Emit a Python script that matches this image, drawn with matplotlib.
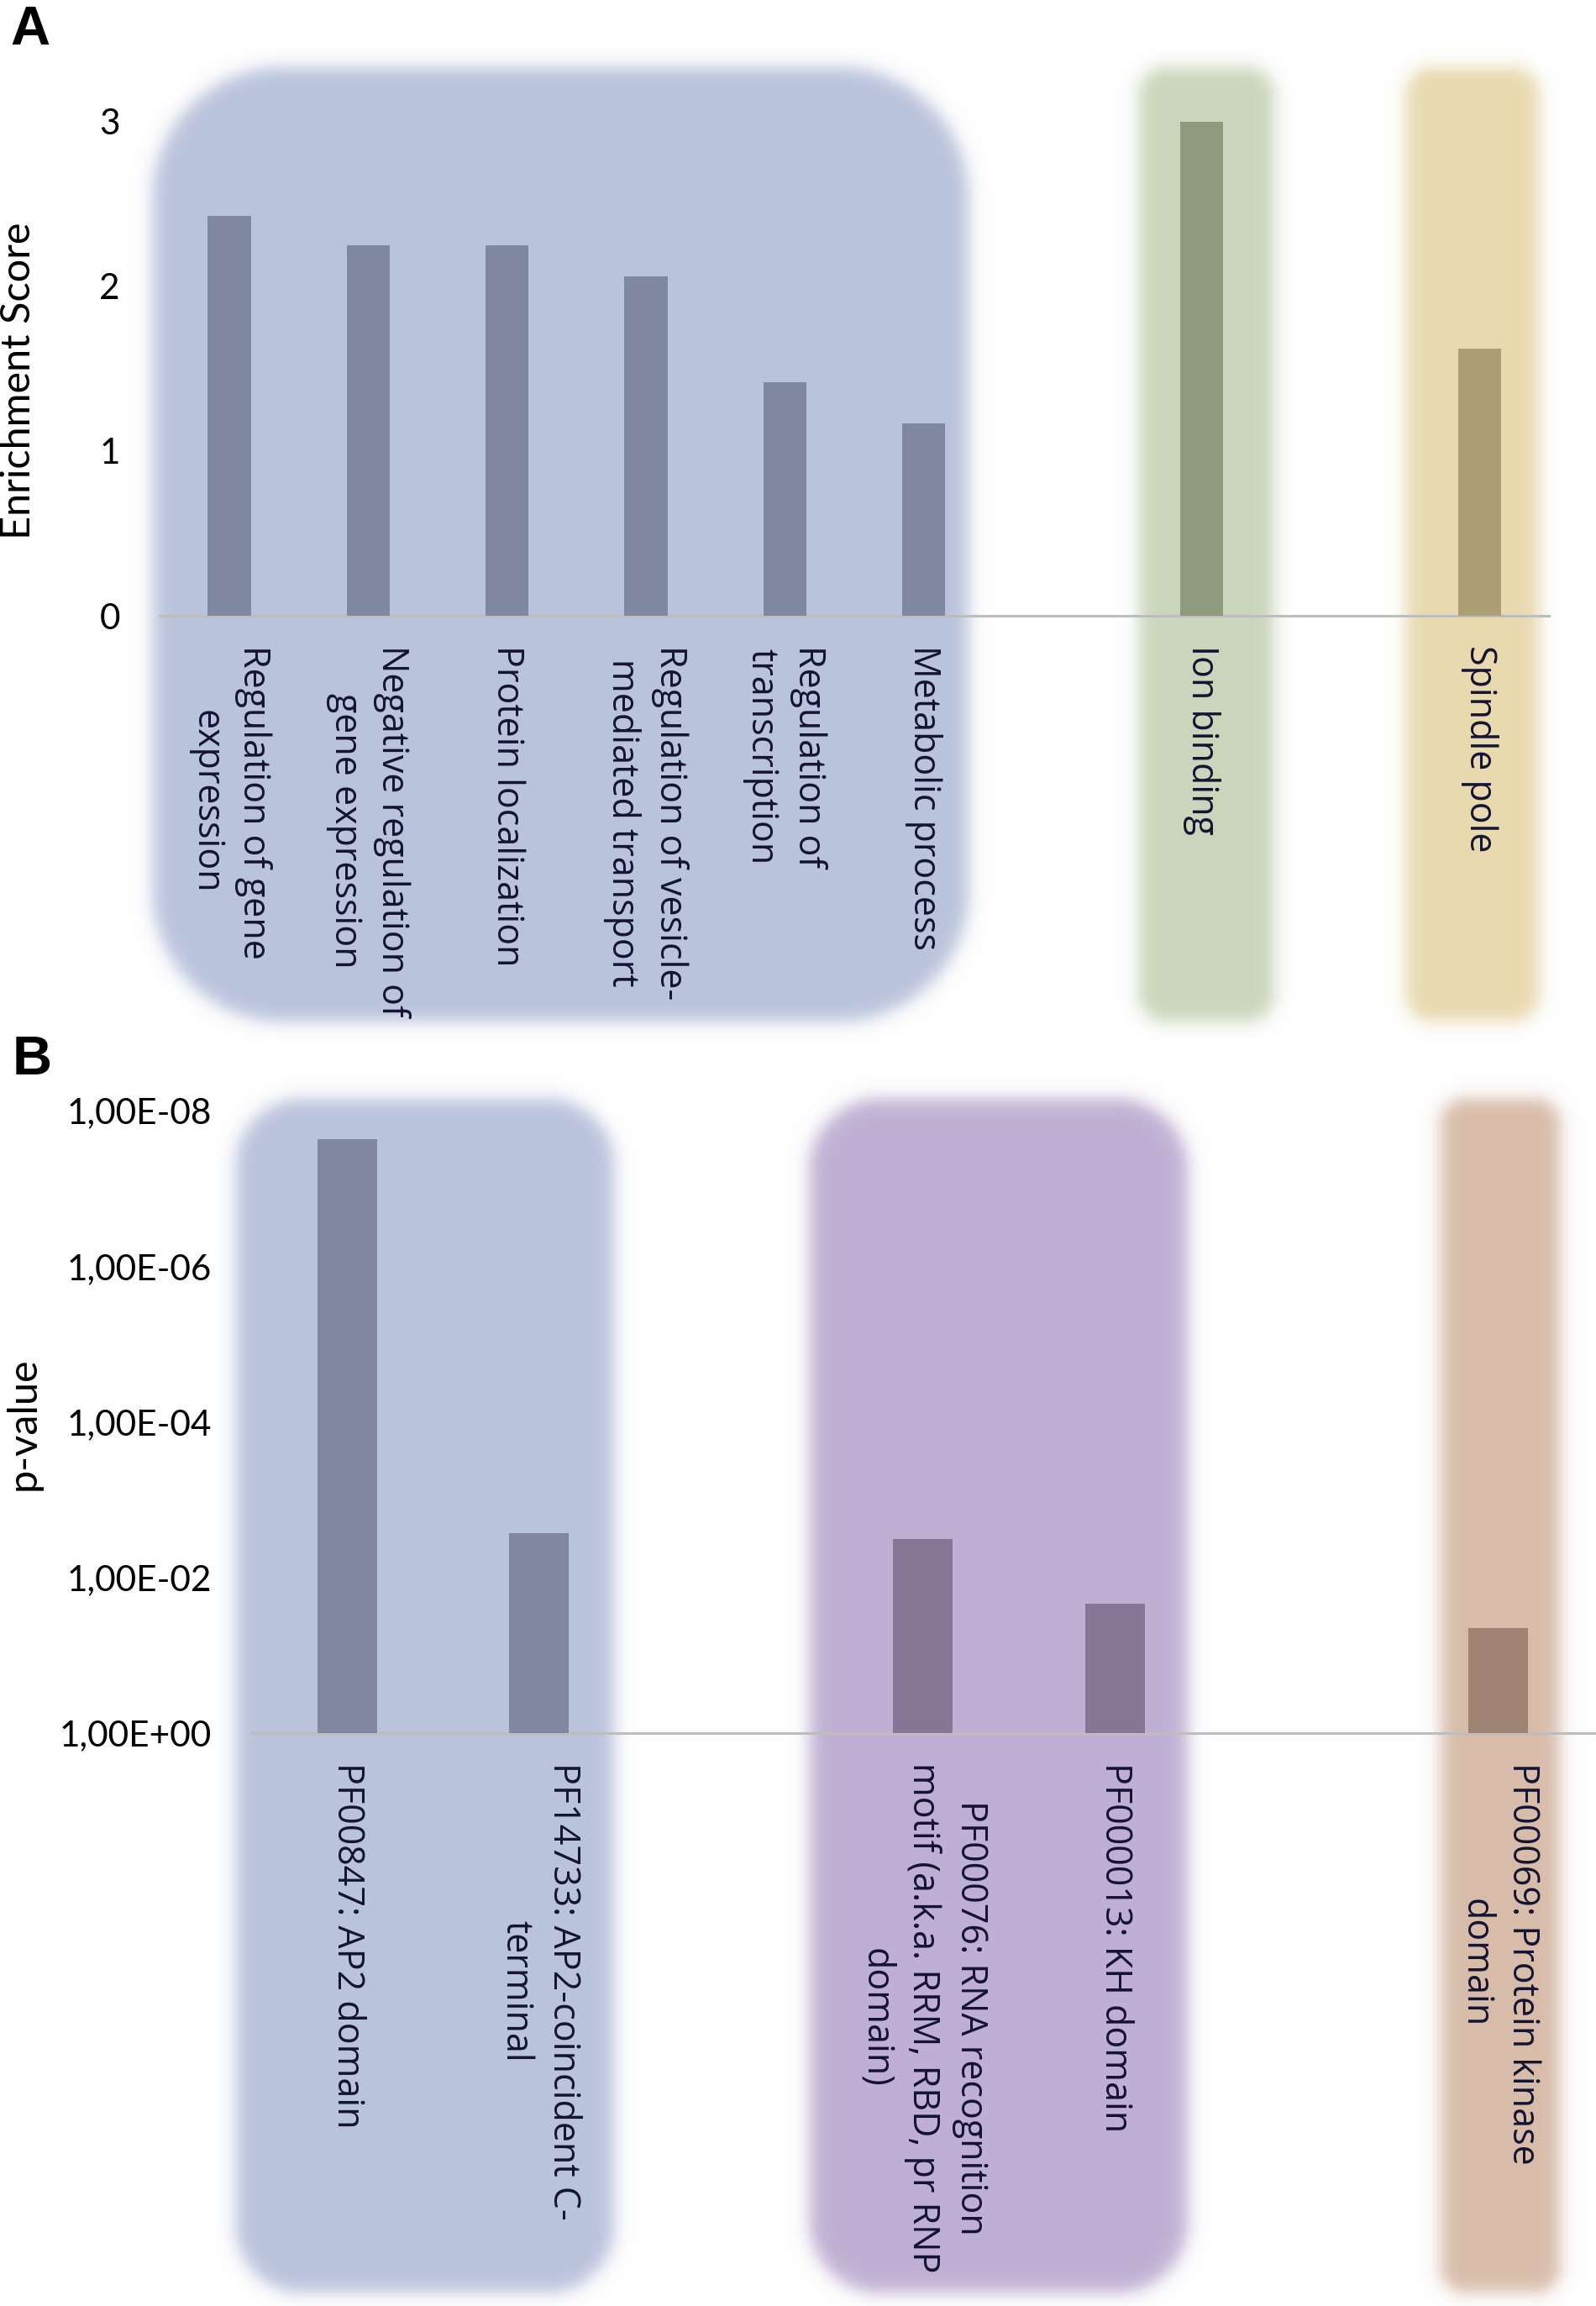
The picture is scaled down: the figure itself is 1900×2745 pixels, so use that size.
import numpy as np
import matplotlib
matplotlib.use('Agg')
import matplotlib.pyplot as plt
from matplotlib.ticker import FuncFormatter, NullLocator

# ---- data: panel A (enrichment scores) ----
a_terms = ['Regulation of gene\nexpression',
           'Negative regulation of\ngene expression',
           'Protein localization',
           'Regulation of vesicle-\nmediated transport',
           'Regulation of\ntranscription',
           'Metabolic process',
           'Ion binding',
           'Spindle pole']
a_scores = [2.43, 2.25, 2.25, 2.06, 1.42, 1.17, 3.00, 1.62]
a_group = [0, 0, 0, 0, 0, 0, 1, 2]
a_yticks = [0, 1, 2, 3]

# ---- data: panel B (Pfam domain p-values) ----
b_domains = ['PF00847: AP2 domain',
             'PF14733: AP2-coincident C-\nterminal',
             'PF00076: RNA recognition\nmotif (a.k.a. RRM, RBD, pr RNP\ndomain)',
             'PF000013: KH domain',
             'PF00069: Protein kinase\ndomain']
b_pvalues = [2.3e-8, 2.7e-3, 3.2e-3, 2.2e-2, 4.5e-2]
b_group = [0, 0, 1, 1, 2]
b_yticks = [1, 1e-2, 1e-4, 1e-6, 1e-8]

# colours per group
a_box_colors = ['#bac3dc', '#cad6bb', '#e8d9af']
a_bar_colors = ['#7f87a1', '#8d9a7d', '#ad9f75']
b_box_colors = ['#bac3dc', '#bfb0d3', '#d8bcaa']
b_bar_colors = ['#7f87a1', '#857696', '#9e8373']

# background boxes: x span in category units, corner radius in px
a_spans = [(-0.55, 5.32, 155), (6.55, 7.52, 35), (8.47, 9.43, 35)]
b_spans = [(-0.58, 1.39, 80), (2.41, 4.38, 85), (5.70, 6.32, 32)]
a_box_y = (80, 1216)     # top / bottom, px from top
b_box_y = (1308, 2729)

W, H = 1900, 2745
label_color = '#141432'
axis_color = '#bdbdbd'

plt.rcParams['font.family'] = ['Lato', 'DejaVu Sans']

fig = plt.figure(figsize=(W / 100, H / 100), dpi=100)
bg = fig.add_axes([0, 0, 1, 1], zorder=-1)
bg.axis('off')

axA = fig.add_axes([190.3 / W, 1 - 733 / H, (1844 - 190.3) / W, 3.2 * 196 / H])
axB = fig.add_axes([299.3 / W, 1 - 2063 / H, 7 * 228.4 / W, (2063 - 1322) / H])


def style_axes(ax):
    ax.set_facecolor('none')
    for s in ['top', 'right', 'left']:
        ax.spines[s].set_visible(False)
    ax.spines['bottom'].set_color(axis_color)
    ax.spines['bottom'].set_linewidth(2.2)
    ax.tick_params(axis='y', length=0, pad=34, labelsize=30.5)
    ax.tick_params(axis='x', length=0, pad=25)


def set_cat_labels(ax, pos, labels):
    ax.set_xticks(pos)
    ax.set_xticklabels(labels, rotation=-90, fontsize=31, color=label_color,
                       family=['Open Sans', 'DejaVu Sans'], linespacing=1.35,
                       multialignment='center')


# panel A
posA = [i + g for i, g in enumerate(a_group)]
axA.bar(posA, a_scores, width=0.31, color=[a_bar_colors[g] for g in a_group], zorder=3)
axA.set_xlim(-0.5, max(posA) + 0.5)
axA.set_ylim(0, 3.2)
axA.set_yticks(a_yticks)
style_axes(axA)
set_cat_labels(axA, posA, a_terms)

# panel B (inverted log axis, bars grow from 1 towards small p)
posB = [i + g for i, g in enumerate(b_group)]
axB.set_yscale('log')
axB.bar(posB, [1 - p for p in b_pvalues], bottom=b_pvalues, width=0.31,
        color=[b_bar_colors[g] for g in b_group], zorder=3)
axB.set_xlim(-0.5, max(posB) + 0.5)
axB.set_ylim(1, 1e-8)
axB.set_yticks(b_yticks)
axB.yaxis.set_major_formatter(FuncFormatter(lambda v, _: f'{v:.2E}'.replace('.', ',')))
axB.yaxis.set_minor_locator(NullLocator())
style_axes(axB)
set_cat_labels(axB, posB, b_domains)

# soft-edged rounded background boxes
xs = np.arange(W, dtype=np.float32) + 0.5
ys = H - (np.arange(H, dtype=np.float32) + 0.5)
X, Y = np.meshgrid(xs, ys)
img = np.ones((H, W, 3), dtype=np.float32)


def add_box(ax, x0, x1, r, ytop, ybot, color):
    global img
    tr = ax.get_xaxis_transform()
    px0 = tr.transform((x0, 0))[0]
    px1 = tr.transform((x1, 0))[0]
    y0, y1 = H - ybot, H - ytop
    cx, cy = (px0 + px1) / 2, (y0 + y1) / 2
    hx, hy = (px1 - px0) / 2, (y1 - y0) / 2
    qx = np.abs(X - cx) - hx + r
    qy = np.abs(Y - cy) - hy + r
    d = np.sqrt(np.maximum(qx, 0) ** 2 + np.maximum(qy, 0) ** 2) + np.minimum(np.maximum(qx, qy), 0) - r
    a = 1 / (1 + np.exp(np.clip(d / 6.0, -50, 50)))
    c = np.array(matplotlib.colors.to_rgb(color), dtype=np.float32)
    img = img * (1 - a[..., None]) + c * a[..., None]


for (x0, x1, r), col in zip(a_spans, a_box_colors):
    add_box(axA, x0, x1, r, a_box_y[0], a_box_y[1], col)
for (x0, x1, r), col in zip(b_spans, b_box_colors):
    add_box(axB, x0, x1, r, b_box_y[0], b_box_y[1], col)

bg.imshow(np.clip(img, 0, 1), extent=[0, W, 0, H], origin='upper', aspect='auto',
          interpolation='nearest')
bg.set_xlim(0, W)
bg.set_ylim(0, H)

# axis titles and panel letters
fig.text(22 / W, 1 - 453 / H, 'Enrichment Score', rotation=90, fontsize=35,
         ha='center', va='center')
fig.text(28 / W, 1 - 1695 / H, 'p-value', rotation=90, fontsize=35,
         ha='center', va='center')
fig.text(12 / W, 1 - 6 / H, 'A', fontsize=47, fontweight='bold',
         family='Liberation Sans', ha='left', va='top')
fig.text(15 / W, 1 - 1232 / H, 'B', fontsize=47, fontweight='bold',
         family='Liberation Sans', ha='left', va='top')

fig.savefig('out.png', dpi=100)
